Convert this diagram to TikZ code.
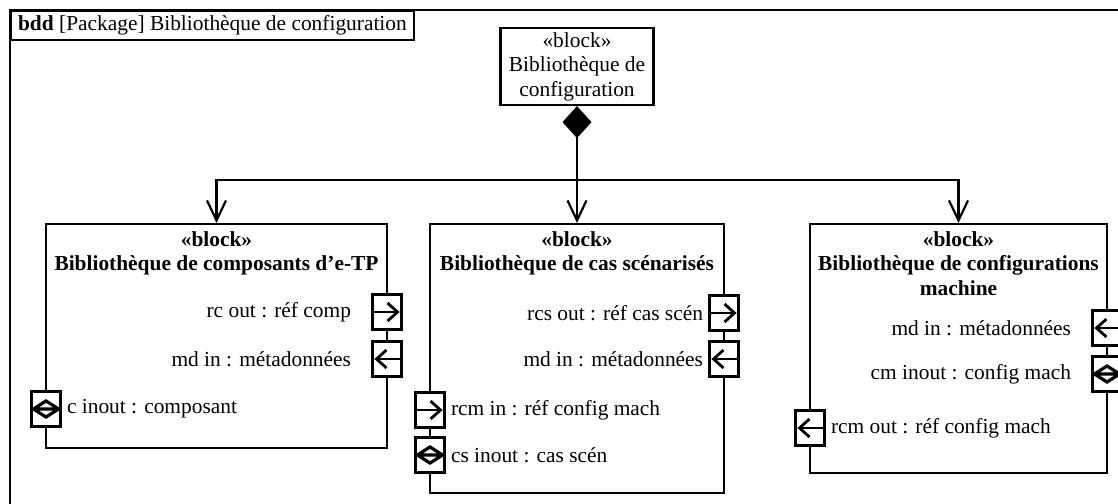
\documentclass[tikz,border=0pt]{standalone}
\usepackage{fontspec}
\setmainfont{Liberation Serif}
\usetikzlibrary{arrows.meta, positioning}
\newcommand{\sysmlsize}{\fontsize{10.7pt}{12.25pt}\selectfont}
\newcommand{\outsign}[1]{\draw[portarrow] (#1.west) -- ([xshift=-1.5pt]#1.east);}
\newcommand{\insign}[1]{\draw[portarrow] (#1.east) -- ([xshift=1.5pt]#1.west);}
\newcommand{\inoutsign}[1]{%
  \draw[inoutmark] ([xshift=1.5pt]#1.west) -- ([xshift=-1.5pt]#1.east)
    ([xshift=1.5pt]#1.west) -- ([yshift=4pt]#1.center)
    -- ([xshift=-1.5pt]#1.east) -- ([yshift=-4pt]#1.center) -- cycle;}
\tikzset{
  blockbox/.style={
    draw,
    line width=1.1pt,
    fill=white,
    anchor=north,
    inner sep=0pt
  },
  blockhead/.style={
    align=center,
    anchor=north,
    inner sep=0pt,
    font=\sysmlsize\bfseries
  },
  portbox/.style={
    draw,
    line width=1.1pt,
    fill=white,
    minimum width=14.5pt,
    minimum height=17.5pt,
    inner sep=0pt
  },
  portlabel/.style={inner sep=0pt, font=\sysmlsize},
  portarrow/.style={
    -{Straight Barb[length=5pt,width=9pt]},
    line width=1.4pt
  },
  inoutmark/.style={line width=1.6pt, line join=miter},
  partarrow/.style={
    -{Straight Barb[length=10pt,width=9.5pt]},
    line width=1.1pt
  },
  composition/.style={
    {Diamond[length=16pt,width=14.5pt]}-,
    line width=1.1pt
  }
}

\begin{document}
\begin{tikzpicture}[x=0.5pt,y=-0.5pt]
\clip (0,0) rectangle (1118,503);

% diagram frame
\draw[line width=1.1pt] (10,10) rectangle (1140,520);
\node[draw, line width=1.1pt, anchor=north west, inner xsep=3.5pt, inner ysep=0pt,
  minimum height=14.5pt, font=\sysmlsize] (bddTab) at (10,10)
  {\textbf{bdd} [Package] Bibliothèque de configuration};

% whole
\node[draw, line width=1.1pt, align=center, minimum width=76.5pt, minimum height=38.5pt,
  inner sep=0pt, font=\sysmlsize] (configLib) at (577,66.5)
  {«block»\\Bibliothèque de\\configuration};

% parts
\node[blockbox, minimum width=170.5pt, minimum height=112pt] (compLib) at (216.5,223) {};
\node[blockbox, minimum width=147pt, minimum height=134.5pt] (casLib) at (577,223) {};
\node[blockbox, minimum width=148.5pt, minimum height=124.5pt] (machLib) at (958.5,223) {};

\node[blockhead] at ([yshift=-4pt]compLib.north)
  {«block»\\Bibliothèque de composants d’e-TP};
\node[blockhead] at ([yshift=-4pt]casLib.north)
  {«block»\\Bibliothèque de cas scénarisés};
\node[blockhead] at ([yshift=-4pt]machLib.north)
  {«block»\\Bibliothèque de configurations\\machine};

% composition
\coordinate (split) at (577,180);
\draw[composition] (configLib.south) -- (split);
\draw[partarrow] (split) -| (compLib.north);
\draw[partarrow] (split) -- (casLib.north);
\draw[partarrow] (split) -| (machLib.north);

% ports of compLib
\node[portbox] (rcOut) at (387,312) {};
\node[portbox] (mdInC) at (387,359) {};
\node[portbox] (cInout) at (46,409) {};
\outsign{rcOut}
\insign{mdInC}
\inoutsign{cInout}
\node[portlabel, left=10pt of rcOut] {rc out : réf comp};
\node[portlabel, left=10pt of mdInC] {md in : métadonnées};
\node[portlabel, right=2.5pt of cInout] {c inout : composant};

% ports of casLib
\node[portbox] (rcsOut) at (724,313) {};
\node[portbox] (mdInS) at (724,359) {};
\node[portbox] (rcmIn) at (430,410) {};
\node[portbox] (csInout) at (430,455) {};
\outsign{rcsOut}
\insign{mdInS}
\outsign{rcmIn}
\inoutsign{csInout}
\node[portlabel, left=2.5pt of rcsOut] {rcs out : réf cas scén};
\node[portlabel, left=2.5pt of mdInS] {md in : métadonnées};
\node[portlabel, right=2.5pt of rcmIn] {rcm in : réf config mach};
\node[portlabel, right=2.5pt of csInout] {cs inout : cas scén};

% ports of machLib
\node[portbox] (mdInM) at (1107,328) {};
\node[portbox] (cmInout) at (1107,374) {};
\node[portbox] (rcmOut) at (810,428) {};
\insign{mdInM}
\inoutsign{cmInout}
\insign{rcmOut}
\node[portlabel, left=10pt of mdInM] {md in : métadonnées};
\node[portlabel, left=10pt of cmInout] {cm inout : config mach};
\node[portlabel, right=2.5pt of rcmOut] {rcm out : réf config mach};
\end{tikzpicture}
\end{document}
